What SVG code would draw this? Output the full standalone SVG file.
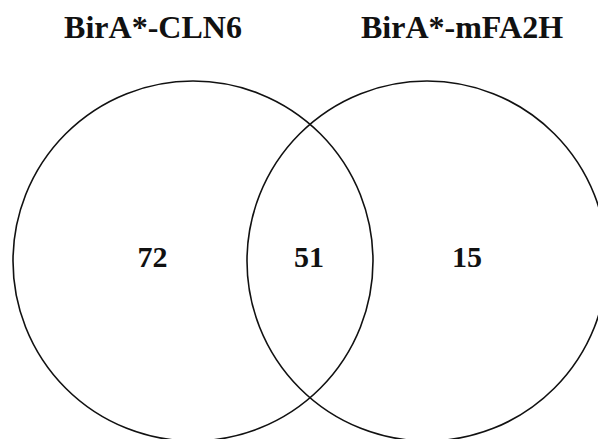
<svg xmlns="http://www.w3.org/2000/svg" width="598" height="439" viewBox="0 0 598 439">
<style>
.set{fill:none;stroke:#111;stroke-width:1.6}
.t{font-family:"Liberation Serif","Times New Roman",serif;font-weight:bold;fill:#111;text-anchor:middle}
.title{font-size:32px}
.num{font-size:30px}
</style>
<rect width="598" height="439" fill="#fff"/>
<g id="set-cln6">
<circle class="set" cx="193" cy="261" r="180"/>
<text class="t title" x="153" y="38">BirA*-CLN6</text>
</g>
<g id="set-mfa2h">
<circle class="set" cx="427" cy="261" r="180"/>
<text class="t title" x="462" y="38">BirA*-mFA2H</text>
</g>
<g id="only-cln6"><text class="t num" x="152.5" y="267">72</text></g>
<g id="both"><text class="t num" x="309" y="267">51</text></g>
<g id="only-mfa2h"><text class="t num" x="467" y="267">15</text></g>
<g id="connectors"></g>
</svg>
